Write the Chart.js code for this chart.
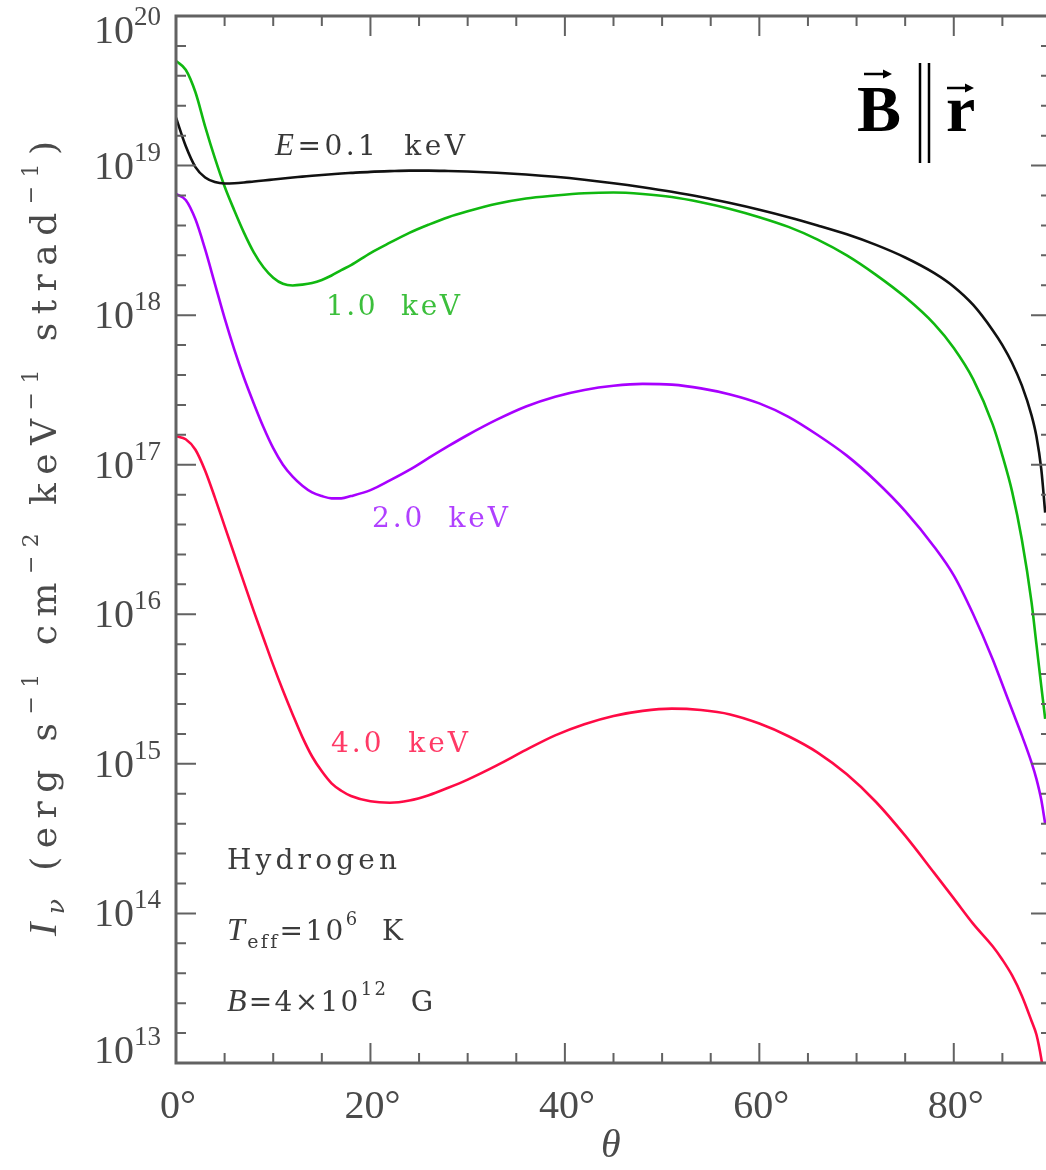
<!DOCTYPE html>
<html>
<head>
<meta charset="utf-8">
<title>Specific intensity vs angle</title>
<script src="https://cdn.jsdelivr.net/npm/chart.js@4.4.1/dist/chart.umd.min.js"></script>
<style>
    html, body { margin: 0; padding: 0; background: #fff; overflow: hidden; }
    #wrap { width: 1060px; height: 1170px; }
</style>
</head>
<body>
<div id="wrap"><canvas id="intensityChart" width="1060" height="1170"></canvas></div>
<script>
// angle theta in degrees (shared by all curves)
const theta = [0, 1, 2, 3, 4, 5, 6, 7, 8, 9, 10, 11, 12, 13, 14, 15, 16, 17, 18, 20, 22, 24, 26, 28, 30,
    33, 36, 39, 42, 45, 48, 51, 54, 57, 60, 63, 66, 69, 72, 75, 78, 80, 82, 84, 85, 86, 87, 88, 88.5, 89, 89.4];

// I_nu in erg s^-1 cm^-2 keV^-1 strad^-1
const e01keV = [2.09e19, 1.35e19, 9.77e18, 8.32e18, 7.76e18, 7.59e18, 7.62e18, 7.71e18, 7.83e18, 7.94e18,
    8.07e18, 8.20e18, 8.32e18, 8.43e18, 8.55e18, 8.65e18, 8.75e18, 8.85e18, 8.93e18, 9.08e18, 9.18e18, 9.25e18,
    9.25e18, 9.20e18, 9.12e18, 8.95e18, 8.71e18, 8.41e18, 8.04e18, 7.62e18, 7.16e18, 6.68e18, 6.17e18, 5.62e18,
    5.07e18, 4.52e18, 3.98e18, 3.47e18, 2.95e18, 2.43e18, 1.91e18, 1.55e18, 1.17e18, 7.94e17, 6.31e17, 4.79e17,
    3.39e17, 2.14e17, 1.55e17, 9.33e16, 4.79e16];

const e10keV = [5.01e19, 4.37e19, 3.09e19, 1.82e19, 1.12e19, 7.24e18, 5.01e18, 3.55e18, 2.63e18, 2.09e18,
    1.78e18, 1.62e18, 1.58e18, 1.60e18, 1.64e18, 1.72e18, 1.84e18, 2.00e18, 2.16e18, 2.60e18, 3.05e18, 3.55e18,
    4.03e18, 4.52e18, 4.95e18, 5.56e18, 6.03e18, 6.31e18, 6.53e18, 6.61e18, 6.46e18, 6.17e18, 5.69e18, 5.13e18,
    4.52e18, 3.89e18, 3.20e18, 2.51e18, 1.86e18, 1.32e18, 8.71e17, 6.03e17, 3.72e17, 1.86e17, 1.15e17, 6.61e16,
    3.16e16, 1.20e16, 6.31e15, 3.31e15, 2.00e15];

const e20keV = [6.46e18, 5.89e18, 4.37e18, 2.75e18, 1.62e18, 9.55e17, 5.89e17, 3.80e17, 2.57e17, 1.78e17,
    1.29e17, 1.00e17, 8.32e16, 7.24e16, 6.53e16, 6.17e16, 5.96e16, 5.96e16, 6.17e16, 6.76e16, 7.85e16, 9.23e16,
    1.11e17, 1.33e17, 1.58e17, 2.00e17, 2.45e17, 2.85e17, 3.16e17, 3.37e17, 3.47e17, 3.43e17, 3.24e17, 2.95e17,
    2.57e17, 2.09e17, 1.58e17, 1.15e17, 7.76e16, 4.90e16, 2.82e16, 1.82e16, 1.00e16, 5.01e15, 3.39e15, 2.29e15,
    1.55e15, 1.02e15, 7.94e14, 5.75e14, 3.98e14];

const e40keV = [1.55e17, 1.48e17, 1.26e17, 9.12e16, 6.03e16, 3.89e16, 2.51e16, 1.62e16, 1.05e16, 6.92e15,
    4.57e15, 3.09e15, 2.14e15, 1.51e15, 1.12e15, 8.91e14, 7.41e14, 6.61e14, 6.10e14, 5.62e14, 5.50e14, 5.69e14,
    6.17e14, 6.92e14, 7.85e14, 9.77e14, 1.24e15, 1.55e15, 1.84e15, 2.09e15, 2.26e15, 2.34e15, 2.29e15, 2.14e15,
    1.86e15, 1.53e15, 1.19e15, 8.51e14, 5.56e14, 3.31e14, 1.86e14, 1.26e14, 8.51e13, 6.03e13, 4.90e13, 3.85e13,
    2.82e13, 1.91e13, 1.55e13, 1.07e13, 7.08e12];

const seriesNames = ["0.1  keV", "1.0  keV", "2.0  keV", "4.0  keV"];
const seriesColors = ["#111111", "#10b810", "#a800ff", "#ff0a45"];
const xTickLabels = [0, 20, 40, 60, 80];
const yDecades = [13, 14, 15, 16, 17, 18, 19, 20];

const SERIF = "'Liberation Serif', 'Times New Roman', serif";
const WIDE = "'DejaVu Serif', serif";

function toPoints(values) {
    return theta.map((t, i) => ({ x: t, y: values[i] }));
}

// --- small rich text helpers (sub/superscripts, letter spacing) ---
function fontOf(p) {
    return (p.italic ? "italic " : "") + (p.bold ? "bold " : "") + p.size + "px " + (p.family || SERIF);
}
function richWidth(ctx, parts, sp) {
    let w = 0;
    parts.forEach((p) => {
        ctx.font = fontOf(p);
        for (const ch of p.t) w += ctx.measureText(ch).width + sp;
    });
    return w - sp;
}
function countChars(parts) {
    return parts.reduce((n, p) => n + [...p.t].length, 0);
}
function drawRich(ctx, parts, x, y, width) {
    let sp = 0;
    if (width) {
        const natural = richWidth(ctx, parts, 0);
        sp = (width - natural) / Math.max(1, countChars(parts) - 1);
    }
    let cx = x;
    parts.forEach((p) => {
        ctx.font = fontOf(p);
        for (const ch of p.t) {
            ctx.fillText(ch, cx, y + (p.dy || 0));
            cx += ctx.measureText(ch).width + sp;
        }
    });
    return cx;
}
function arrow(ctx, x0, x1, y) {
    ctx.beginPath();
    ctx.moveTo(x0, y);
    ctx.lineTo(x1 - 6, y);
    ctx.stroke();
    ctx.beginPath();
    ctx.moveTo(x1, y);
    ctx.lineTo(x1 - 9, y - 4.5);
    ctx.lineTo(x1 - 9, y + 4.5);
    ctx.closePath();
    ctx.fill();
}
function label(t, size, extra) {
    return Object.assign({ t: t, size: size, family: WIDE }, extra || {});
}

const framePlugin = {
    id: "frame",
    afterDatasetsDraw(chart) {
        const ctx = chart.ctx;
        const area = chart.chartArea;
        const xs = chart.scales.x;
        const ys = chart.scales.y;
        ctx.save();

        // box
        ctx.strokeStyle = "#626262";
        ctx.lineWidth = 3;
        ctx.strokeRect(area.left, area.top, area.right - area.left, area.bottom - area.top);

        // x ticks every 5 deg, major every 20
        ctx.lineWidth = 2;
        for (let d = 0; d <= 90; d += 5) {
            const px = xs.getPixelForValue(d);
            const len = d % 20 === 0 ? 20 : 10;
            ctx.beginPath();
            ctx.moveTo(px, area.bottom);
            ctx.lineTo(px, area.bottom - len);
            ctx.moveTo(px, area.top);
            ctx.lineTo(px, area.top + len);
            ctx.stroke();
        }
        // y ticks every 0.2 decade, major each decade
        for (let k = 0; k <= 35; k++) {
            const py = ys.getPixelForValue(Math.pow(10, 13 + k * 0.2));
            const len = k % 5 === 0 ? 20 : 10;
            ctx.beginPath();
            ctx.moveTo(area.left, py);
            ctx.lineTo(area.left + len, py);
            ctx.moveTo(area.right, py);
            ctx.lineTo(area.right - len, py);
            ctx.stroke();
        }

        // tick labels
        ctx.fillStyle = "#4a4a4a";
        ctx.textBaseline = "alphabetic";
        xTickLabels.forEach((d) => {
            const parts = [{ t: d + "°", size: 40 }];
            const w = richWidth(ctx, parts, 0);
            drawRich(ctx, parts, xs.getPixelForValue(d) - w / 2 + 2, 1118);
        });
        yDecades.forEach((e, i) => {
            const parts = [{ t: "10", size: 40 }, { t: String(e), size: 27, dy: -18 }];
            const w = richWidth(ctx, parts, 1);
            const py = ys.getPixelForValue(Math.pow(10, e));
            let base = py + 13;
            if (i === yDecades.length - 1) base = py + 27;
            if (i === 0) base = py;
            drawRich(ctx, parts, 164 - w, base);
        });

        // axis titles
        drawRich(ctx, [{ t: "θ", size: 40, italic: true }], 601, 1157);
        ctx.save();
        ctx.translate(56, 936);
        ctx.rotate(-Math.PI / 2);
        drawRich(ctx, [
            { t: "I", size: 40, italic: true },
            label("ν", 25, { italic: true, dy: 8 }),
            label(" (erg s", 36),
            label("−1", 22, { dy: -18 }),
            label(" cm", 36),
            label("−2", 22, { dy: -18 }),
            label(" keV", 36),
            label("−1", 22, { dy: -18 }),
            label(" strad", 36),
            label("−1", 22, { dy: -18 }),
            label(")", 36),
        ], 0, 0, 795);
        ctx.restore();

        // curve labels
        ctx.fillStyle = "#383838";
        drawRich(ctx, [{ t: "E", size: 31, italic: true }, label("=" + seriesNames[0], 28)], 275, 155, 190);
        ctx.fillStyle = "#3cbf3c";
        drawRich(ctx, [label(seriesNames[1], 28)], 326, 315, 134);
        ctx.fillStyle = "#b040ff";
        drawRich(ctx, [label(seriesNames[2], 28)], 372, 527, 136);
        ctx.fillStyle = "#ff3a66";
        drawRich(ctx, [label(seriesNames[3], 28)], 331, 752, 137);

        // model parameters
        ctx.fillStyle = "#3c3c3c";
        drawRich(ctx, [label("Hydrogen", 28)], 227, 869, 170);
        drawRich(ctx, [
            { t: "T", size: 32, italic: true },
            label("eff", 19, { dy: 8 }),
            label("=10", 28),
            label("6", 18, { dy: -15 }),
            label("  K", 28),
        ], 227, 940, 176);
        drawRich(ctx, [
            { t: "B", size: 32, italic: true },
            label("=4×10", 28),
            label("12", 18, { dy: -16 }),
            label("  G", 28),
        ], 227, 1011, 206);

        // B || r
        ctx.fillStyle = "#000";
        ctx.strokeStyle = "#000";
        ctx.font = "bold 66px " + SERIF;
        ctx.fillText("B", 857, 131);
        ctx.fillText("r", 946, 131);
        ctx.lineWidth = 2.5;
        arrow(ctx, 864, 892, 74);
        arrow(ctx, 947, 974, 88);
        ctx.beginPath();
        ctx.moveTo(920, 63);
        ctx.lineTo(920, 163);
        ctx.moveTo(929, 63);
        ctx.lineTo(929, 163);
        ctx.stroke();

        ctx.restore();
    },
};

function createChart() {
    const ctx = document.getElementById("intensityChart").getContext("2d");
    const curves = [e01keV, e10keV, e20keV, e40keV];

    new Chart(ctx, {
        type: "line",
        data: {
            datasets: curves.map((vals, i) => ({
                label: seriesNames[i],
                data: toPoints(vals),
                borderColor: seriesColors[i],
                borderWidth: 2.6,
                pointRadius: 0,
                fill: false,
                cubicInterpolationMode: "monotone",
            })),
        },
        options: {
            responsive: false,
            animation: false,
            layout: { padding: { left: 176, top: 16, right: 9, bottom: 107 } },
            plugins: {
                legend: { display: false },
                tooltip: { enabled: false },
            },
            scales: {
                x: { type: "linear", min: 0, max: 90, display: false },
                y: { type: "logarithmic", min: 1e13, max: 1e20, display: false },
            },
        },
        plugins: [framePlugin],
    });
}

createChart();
</script>
</body>
</html>
